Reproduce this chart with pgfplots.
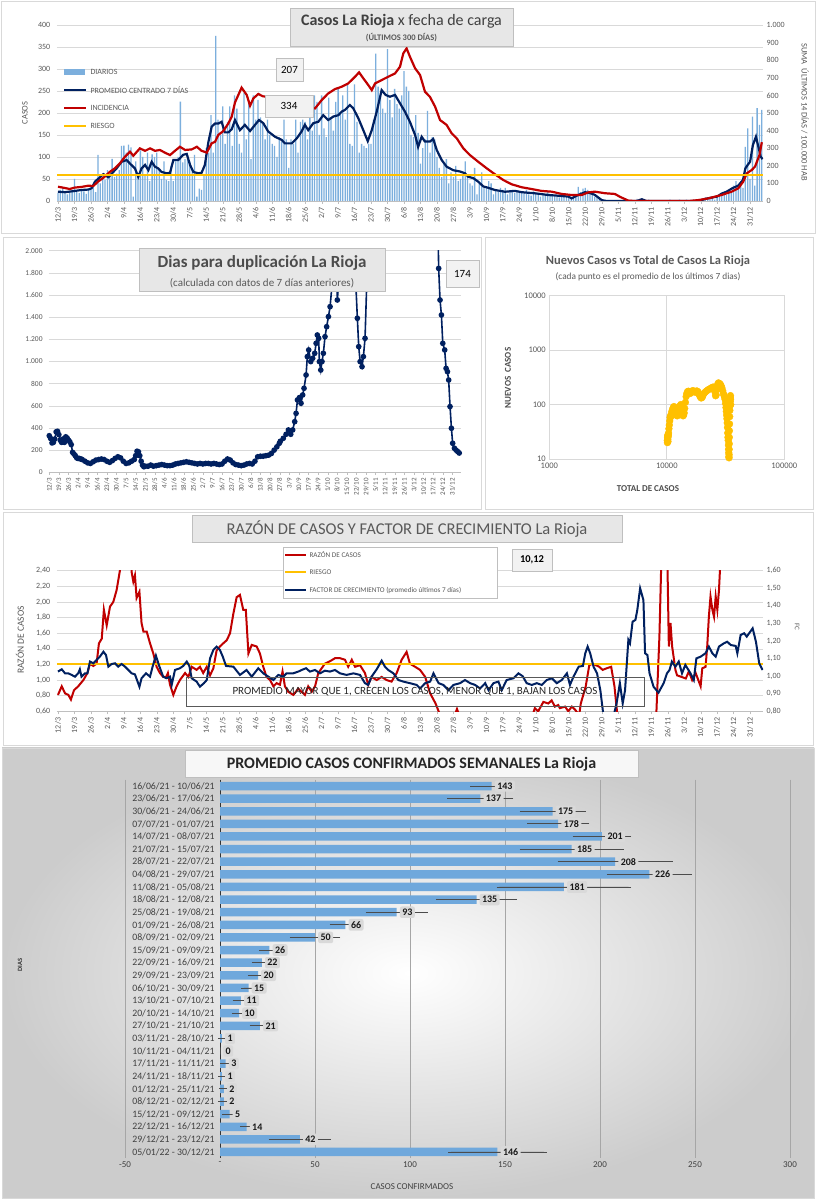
\documentclass[border=0pt]{standalone}
\usepackage{pgfplots}
\pgfplotsset{compat=1.18}
\usepackage{pgfplotstable}
\usepackage{fontspec}
\setmainfont{Carlito}

\definecolor{navy}{HTML}{002060}
\definecolor{rojo}{HTML}{C00000}
\definecolor{amar}{HTML}{FFC000}
\definecolor{barra}{HTML}{5B9BD5}
\definecolor{barra2}{HTML}{6FA8DC}
\definecolor{grisg}{HTML}{D9D9D9}
\definecolor{txt}{HTML}{595959}
\definecolor{caja}{HTML}{E7E7E7}
\definecolor{borde}{HTML}{BFBFBF}

\newcommand\fs[1]{\fontsize{#1}{#1}\selectfont}

% daily cases, 12/3/21 .. 5/1/22
\pgfplotstableread[row sep=\\]{v\\
18\\25\\30\\20\\15\\22\\24\\ 50\\20\\18\\24\\22\\16\\28\\ 30\\35\\20\\105\\40\\55\\48\\
70\\60\\96\\55\\62\\70\\125\\ 126\\110\\128\\122\\10\\90\\60\\ 115\\100\\60\\110\\45\\106\\100\\
110\\70\\50\\90\\48\\45\\80\\ 45\\90\\100\\226\\88\\95\\105\\ 90\\75\\105\\10\\28\\25\\60\\
120\\110\\195\\110\\375\\185\\150\\ 215\\130\\180\\215\\125\\240\\210\\ 130\\110\\245\\140\\225\\95\\240\\
185\\230\\190\\175\\140\\185\\150\\ 130\\125\\100\\145\\135\\185\\140\\ 75\\140\\130\\185\\110\\180\\185\\
180\\140\\190\\160\\240\\225\\150\\ 240\\165\\145\\235\\190\\160\\225\\ 255\\200\\240\\185\\265\\130\\125\\
265\\180\\110\\130\\125\\120\\130\\ 130\\185\\335\\260\\240\\210\\200\\ 345\\230\\190\\255\\220\\210\\240\\
295\\260\\250\\150\\145\\195\\155\\ 85\\120\\140\\205\\110\\145\\140\\ 100\\75\\55\\85\\95\\40\\65\\
55\\80\\45\\50\\60\\90\\55\\ 40\\35\\75\\15\\40\\65\\30\\ 30\\45\\40\\15\\25\\20\\30\\
25\\30\\15\\20\\25\\18\\24\\ 20\\22\\18\\25\\15\\12\\22\\ 18\\15\\10\\16\\14\\20\\12\\
12\\10\\14\\8\\10\\12\\9\\ 10\\8\\15\\12\\32\\20\\28\\ 30\\25\\22\\15\\10\\8\\4\\
2\\1\\0\\1\\0\\2\\1\\ 0\\0\\1\\0\\0\\0\\1\\ 2\\5\\3\\4\\2\\1\\3\\
1\\0\\2\\1\\0\\1\\2\\ 2\\3\\1\\2\\2\\3\\1\\ 2\\3\\2\\1\\3\\2\\1\\
3\\5\\8\\4\\6\\7\\3\\ 10\\12\\15\\20\\14\\18\\20\\ 35\\45\\30\\40\\30\\123\\165\\
50\\192\\35\\211\\173\\207\\
}\diarios

\pgfplotsset{
  fechas/.style={xtick={0,7,...,294},
    xticklabels={12/3,19/3,26/3,2/4,9/4,16/4,23/4,30/4,7/5,14/5,21/5,28/5,4/6,11/6,18/6,25/6,2/7,9/7,16/7,23/7,30/7,6/8,13/8,20/8,27/8,3/9,10/9,17/9,24/9,1/10,8/10,15/10,22/10,29/10,5/11,12/11,19/11,26/11,3/12,10/12,17/12,24/12,31/12}},
  base/.style={anchor=south west, scale only axis, clip mode=individual,
    tick label style={text=txt}, /pgf/number format/assume math mode=true},
}

\begin{document}
\begin{tikzpicture}
\useasboundingbox (0,0) rectangle (816pt,1200pt);

% panel backgrounds
\begin{scope}[x=1pt,y=-1pt,yshift=1200pt]
  \fill[white] (0,0) rectangle (816,1200);
  \draw[grisg, fill=white] (1,1) rectangle (815,233);
  \draw[grisg, fill=white] (3,237) rectangle (481,509);
  \draw[grisg, fill=white] (485,237) rectangle (813,509);
  \draw[grisg, fill=white] (3,512) rectangle (813,745);
  \shade[inner color=white, outer color=black!20] (2,748) rectangle (814,1198);
  \draw[grisg] (2,748) rectangle (814,1198);
\end{scope}

% ---------- panel 1: casos diarios ----------
\begin{axis}[base, at={(56.8pt,999pt)}, width=706.2pt, height=176pt,
  fechas, xmin=-0.5, xmax=299.5, ymin=0, ymax=400, ytick={0,50,...,400},
  axis x line*=bottom, axis y line*=left,
  y axis line style={draw=none}, x axis line style={draw=borde},
  ymajorgrids, grid style={grisg, line width=0.6pt},
  ytick style={draw=none}, xtick style={draw=borde}, tick align=outside, major tick length=3pt,
  tick label style={font=\fs{8}}, xticklabel style={rotate=90, anchor=east}]
\addplot[ybar, bar width=1.3pt, fill=barra!80, draw=none] table[x expr=\coordindex, y=v]{\diarios};
\addplot[navy, line width=2.2pt] coordinates {
(0,21)(3,20)(6,22)(10,25)(13,26)(14.3,29)(15.7,44)(17,50)(19.3,61)(21.4,54)(23.5,66)(24.9,74)(27,89)(29.2,93)(30.6,85)(32.7,74)(34.1,55)(35.5,74)(37,82)(38.4,70)(39.8,89)(41.2,78)(42.6,74)(44,66)(46.2,63)(47.6,64)(49,93)(51.1,93)(53.2,105)(54.7,107)(56.1,82)(57.5,66)(59.6,63)(61,64)(62.4,82)(63.9,134)(65.3,169)(66.7,176)(68.1,176)(69.5,180)(70.9,156)(72.4,156)(73.8,163)(75.2,184)(77.3,161)(79.4,173)(81.6,159)(83.7,173)(85.4,184)(87.2,177)(89.3,158)(92.2,146)(95,139)(96.4,131)(99.3,131)(101.4,142)(103.5,158)(104.9,173)(106.3,161)(108.5,177)(110.6,180)(112.7,195)(114.8,184)(117,192)(119.1,195)(120.5,203)(121.9,207)(124,218)(125.4,211)(127.6,188)(129.7,161)(131.6,136)(133.3,161)(135.4,203)(137.5,252)(139.2,241)(141,237)(143.2,241)(145.3,222)(147.4,203)(149.5,180)(151.7,150)(153,123)(154.5,146)(155.9,135)(158,135)(159.4,141)(160.9,116)(163,93)(165.1,78)(167.9,70)(170.8,67)(172.9,63)(174.3,55)(176.4,52)(178.5,44)(180.7,33)(182.8,30)(185.6,25)(189.9,21)(194.1,23)(197,20)(202.6,17.5)(208.3,13.6)(212.5,12)(216.8,10)(218.2,6)(221,13.6)(223.9,20)(226,18)(228,14)(231,2)(233,0)(246,0)(248,4)(250,0)(272,0)(276,6)(280,10)(282,17)(284,21)(286.5,29)(289,35)(291,48)(292,74)(293,82)(294,89)(295.2,127)(296.5,146)(297.7,120)(298.5,101)(299.3,95)};
\end{axis}
\begin{axis}[base, at={(56.8pt,999pt)}, width=706.2pt, height=176pt,
  xmin=-0.5, xmax=299.5, ymin=0, ymax=1000, ytick={0,100,...,1000},
  axis x line=none, axis y line*=right, y axis line style={draw=none}, ytick style={draw=none},
  tick label style={font=\fs{8}}, /pgf/number format/1000 sep={.}]
\addplot[rojo, line width=2.2pt] coordinates {
(0,81)(2.5,75)(5,68)(7,76)(10,80)(13,87)(15,85)(17,110)(19.3,132)(22.1,166)(24.2,186)(26.3,214)(28.5,252)(30.6,280)(32,257)(34.8,299)(37,285)(39.1,299)(41.2,285)(43.3,290)(45.5,274)(47.6,261)(49.7,285)(51.8,308)(54,290)(56.8,293)(59,308)(61,285)(63.2,275)(65.3,328)(66.7,336)(68.1,375)(70.2,397)(72.4,441)(73.8,479)(75.2,560)(78,644)(80.2,602)(81.6,541)(83,583)(85.1,608)(87,595)(90,590)(95,565)(100,545)(105,530)(109.2,526)(112,573)(114.8,611)(117.7,636)(120.5,649)(123.3,668)(126.2,706)(127.9,731)(129.7,697)(131.8,659)(133.3,630)(134.7,668)(137.5,687)(140.3,706)(143.2,725)(145.3,763)(146.7,839)(148.1,867)(149.5,820)(151.7,754)(153.8,716)(155.9,621)(158,592)(160.2,536)(162.3,460)(165.1,432)(167.2,385)(169.4,356)(172.2,299)(175,261)(178.5,223)(182.1,186)(185.6,152)(189.2,119)(192.7,95)(197,78)(201.2,68)(205.5,57)(209.7,53)(214,40)(218.2,34)(222.5,34)(225.3,49)(228.1,53)(232.4,44)(236.6,40)(238.7,24)(242.3,2)(245,0)(268,0)(272,5)(276.3,15)(281.9,34)(286.2,53)(289,72)(291.1,110)(292.6,157)(294.7,176)(296.1,195)(298,261)(299,334)};
\addplot[amar, line width=2pt] coordinates {(-0.5,150)(299.5,150)};
\end{axis}

% ---------- panel 2: dias para duplicacion ----------
\begin{axis}[base, at={(48.6pt,727.7pt)}, width=412pt, height=221.6pt,
  fechas, xmin=-0.5, xmax=300, ymin=0, ymax=2000, ytick={0,200,...,2000},
  axis x line*=bottom, axis y line*=left,
  y axis line style={draw=none}, x axis line style={draw=borde},
  ymajorgrids, grid style={grisg, line width=0.6pt},
  ytick style={draw=none}, xtick style={draw=borde}, tick align=outside, major tick length=2.5pt,
  yticklabel style={font=\fs{7.5}}, xticklabel style={font=\fs{7}, rotate=90, anchor=east},
  /pgf/number format/1000 sep={.}]
\addplot[navy, line width=1.6pt, mark=*, mark size=2pt, mark options={solid, fill=navy}] coordinates {
(0,330)(1,305)(2,265)(3,270)(4,300)(5,365)(6,370)(7,340)(8,290)(9,270)(10,300)(11,270)(12,320)(13,310)(14,290)(15,275)(16,250)(17,180)(18,165)(19,150)(20,130)(21,125)(22,125)(23,120)(24,115)(26,100)(28,85)(30,80)(32,95)(34,110)(36,115)(38,120)(40,115)(42,100)(44,90)(46,105)(48,125)(50,140)(52,130)(54,100)(56,80)(58,85)(60,100)(62,115)(63,150)(64,190)(65,185)(66,150)(67,100)(68,65)(69,50)(70,55)(72,55)(74,65)(76,55)(78,60)(80,65)(82,70)(84,65)(86,60)(88,60)(90,65)(92,75)(94,80)(96,85)(98,90)(100,95)(102,90)(104,85)(106,80)(108,75)(110,80)(112,75)(114,80)(116,80)(118,75)(120,80)(122,75)(124,70)(126,75)(128,100)(130,120)(132,110)(134,85)(136,70)(138,65)(140,60)(142,65)(144,75)(146,80)(148,75)(150,100)(152,140)(154,145)(156,145)(158,150)(160,155)(162,170)(164,200)(166,230)(167.8,262)(168.5,280)(170.7,307)(172.7,343)(174.4,382)(176.1,343)(177.5,382)(179,457)(180,532)(181,653)(182.4,674)(183.6,623)(184.8,698)(185.8,758)(187.3,878)(188.2,1044)(189.2,1104)(190.7,999)(192.1,1029)(193.6,1074)(194.6,1164)(195.5,1239)(196.5,1209)(197,999)(198,923)(198.9,999)(199.9,1074)(201.1,1224)(202.3,1314)(203.6,1405)(204.8,1495)(206,1660)(207.2,1901)(208.2,2600)(209.2,2400)(210.1,1555)(211,1700)(212,2600)(216,3500)(220,3500)(223,2300)(223.5,1720)(224.7,1390)(225.7,1134)(226.7,999)(228.1,953)(229.1,1044)(230.3,1209)(231.5,1690)(232.5,2600)(240,4000)(270,4000)(283,2600)(284,1840)(285,1555)(286,1420)(287,1164)(288.4,1104)(289.4,938)(290.4,908)(291.3,833)(292.3,593)(293.3,397)(294.2,262)(295.5,217)(296.7,200)(298,186)(299,174)};
\end{axis}

% ---------- panel 3: nuevos vs total ----------
\begin{axis}[base, at={(549.3pt,741pt)}, width=235pt, height=163.3pt,
  xmode=log, ymode=log, xmin=1000, xmax=100000, ymin=10, ymax=10000,
  log ticks with fixed point, /pgf/number format/1000 sep={},
  grid=major, grid style={grisg, line width=0.7pt}, axis line style={grisg, line width=0.7pt},
  tick style={draw=none}, tick label style={font=\fs{8.5}}]
\addplot[only marks, mark=*, mark size=3.4pt, color=amar] coordinates {
(10100,22)(10120,20)(10150,25)(10180,27)(10200,23)(10230,21)(10260,28)(10300,26)(10350,30)(10420,36)(10500,42)(10580,50)(10660,58)(10750,62)(10850,60)(10950,68)(11050,75)(11200,82)(11350,88)(11500,92)(11650,85)(11800,78)(11950,70)(12100,64)(12250,62)(12400,66)(12550,78)(12700,88)(12850,92)(13000,95)(13150,100)(13300,88)(13450,75)(13600,66)(13750,62)(13900,64)(14050,70)(14200,85)(14400,110)(14600,140)(14800,160)(15000,172)(15250,176)(15500,170)(15800,160)(16100,165)(16400,178)(16800,180)(17200,172)(17600,168)(18000,178)(18400,172)(18800,155)(19200,140)(19600,132)(20000,135)(20400,150)(20800,162)(21300,170)(21800,178)(22400,186)(23000,192)(23600,198)(24200,205)(24800,210)(25300,195)(25700,170)(26000,145)(26300,150)(26700,190)(27100,235)(27500,250)(27900,245)(28400,238)(28900,225)(29400,205)(29900,180)(30300,160)(30700,146)(31000,138)(31300,125)(31600,105)(31900,88)(32100,75)(32300,64)(32500,55)(32700,46)(32850,38)(33000,30)(33150,25)(33300,22)(33450,18)(33550,15)(33650,13)(33750,11)(33850,10.5)(33900,12)(33950,15)(34000,19)(34050,25)(34100,33)(34200,44)(34300,60)(34400,78)(34500,95)(34600,115)(34700,135)(34800,146)(34900,125)(35000,100)};
\end{axis}

% ---------- panel 4: razon de casos / factor de crecimiento ----------
\begin{axis}[base, at={(56.8pt,488.7pt)}, width=706.2pt, height=140.6pt,
  fechas, xmin=-0.5, xmax=299.5, ymin=0.6, ymax=2.4,
  ytick={0.6,0.8,1,1.2,1.4,1.6,1.8,2,2.2,2.4},
  axis x line*=bottom, axis y line*=left,
  y axis line style={draw=none}, x axis line style={draw=borde},
  ymajorgrids, grid style={grisg, line width=0.6pt},
  ytick style={draw=none}, xtick style={draw=borde}, tick align=outside, major tick length=3pt,
  tick label style={font=\fs{8}}, xticklabel style={rotate=90, anchor=east},
  yticklabel style={/pgf/number format/.cd, fixed, fixed zerofill, precision=2, use comma}]
\addplot[rojo, line width=2pt] coordinates {
(0,0.81)(1.6,0.92)(3,0.83)(4.4,0.81)(5.5,0.75)(6.8,0.87)(8.6,0.92)(10.8,1.0)(12.5,1.09)(13.6,1.21)(15,1.18)(16.4,1.21)(17.4,1.47)(18.6,1.53)(19.5,1.90)(20.7,1.70)(22.1,1.94)(23.5,2.0)(24.9,2.15)(26.3,2.40)(27.2,2.9)(30.4,2.9)(31.3,2.38)(32,2.26)(32.7,2.34)(33.4,2.05)(34.6,2.13)(35.5,1.73)(36.3,1.62)(37.7,1.62)(39.1,1.47)(40.5,1.34)(41.9,1.17)(43.3,1.09)(44.7,1.04)(46,1.04)(46.7,1.09)(47.6,0.94)(49,0.81)(50.4,0.92)(51.8,1.0)(54,1.09)(55.4,1.04)(56.8,1.17)(58.9,1.13)(60.3,1.17)(61.7,1.09)(63.2,1.17)(64.6,1.06)(66,1.15)(67.4,1.38)(68.8,1.43)(70.2,1.47)(71.7,1.51)(73.1,1.60)(74.5,1.85)(75.9,2.06)(77.3,2.09)(78.7,1.90)(79.8,1.90)(80.9,1.34)(82.3,1.45)(84.4,1.43)(85.8,1.34)(87.2,1.17)(88.6,1.04)(90.1,1.0)(91.5,0.92)(92.9,0.96)(94.3,0.94)(95.4,1.11)(96.4,0.92)(97.8,0.85)(100,0.81)(102.1,0.89)(103.5,0.85)(104.9,0.81)(106.3,0.92)(107.8,0.85)(109.2,0.92)(110.6,1.09)(112,1.15)(113.4,1.21)(115.5,1.24)(117.7,1.28)(119.8,1.28)(121.9,1.26)(123.3,1.17)(124.8,1.26)(126.2,1.17)(128.3,1.19)(130.4,1.09)(131.8,0.94)(133.2,1.04)(135.4,1.0)(137.5,1.04)(139.6,1.0)(141.7,0.98)(143.9,1.09)(146,1.26)(148.1,1.36)(149.5,1.21)(151.7,1.17)(153.8,1.13)(156,1.04)(158.1,0.83)(160.4,0.70)(161.7,0.60)(163,0.5)(168,0.5)(169.5,0.63)(171,0.5)(201,0.5)(202.6,0.64)(204,0.6)(206.2,0.72)(208.3,0.70)(209.7,0.74)(211.1,0.66)(212.5,0.68)(213.2,0.64)(215.4,0.66)(216.8,0.6)(218.3,0.66)(219.7,0.62)(221.4,0.55)(222.1,0.70)(224.2,0.92)(225.7,1.19)(227.1,1.21)(228.5,1.19)(229.9,1.17)(231.4,1.13)(233,1.15)(235,1.17)(236.4,0.92)(237.8,0.5)(254.1,0.5)(254.8,1.04)(255.5,1.56)(256.2,2.40)(256.8,3.0)(258.5,3.0)(259,2.32)(259.5,1.43)(260.2,1.73)(260.9,1.43)(262.3,1.13)(263,1.06)(264.9,1.04)(266.7,1.02)(268,1.11)(269.4,1.0)(270.9,1.09)(273,0.92)(273.7,1.15)(275.1,1.17)(275.8,1.43)(276.5,1.81)(277.2,2.07)(278,1.9)(278.7,1.81)(279.4,2.07)(280.1,1.9)(280.8,2.15)(281.2,2.40)(282,3.0)(299,10.12)};
\addplot[amar, line width=2pt] coordinates {(-0.5,1.2)(299.5,1.2)};
\end{axis}
\begin{axis}[base, at={(56.8pt,488.7pt)}, width=706.2pt, height=140.6pt,
  xmin=-0.5, xmax=299.5, ymin=0.8, ymax=1.6,
  ytick={0.8,0.9,1,1.1,1.2,1.3,1.4,1.5,1.6},
  axis x line=none, axis y line*=right, y axis line style={draw=none}, ytick style={draw=none},
  tick label style={font=\fs{8}},
  yticklabel style={/pgf/number format/.cd, fixed, fixed zerofill, precision=2, use comma}]
\addplot[navy, line width=2pt] coordinates {
(0,1.026)(1.6,1.039)(3,1.016)(4.4,1.016)(5.8,1.007)(7.2,0.997)(8.6,1.016)(9.3,1.039)(10,0.997)(11.5,1.016)(12.5,1.016)(13.6,1.083)(15,1.073)(16.4,1.092)(17.8,1.111)(19.3,1.139)(20.4,1.12)(21.4,1.054)(22.8,1.069)(24.2,1.073)(25.6,1.054)(27,1.069)(28.5,1.054)(29.9,1.035)(31.3,1.016)(32.7,1.01)(34.6,0.94)(35.5,0.988)(37.4,1.016)(39.1,0.997)(40.2,1.054)(41.6,1.117)(43,1.058)(44.7,0.997)(46.1,0.988)(47.6,0.997)(48.3,0.95)(49.7,1.035)(51.8,1.045)(53.2,1.058)(54.7,1.083)(55.8,1.058)(56.8,0.988)(58.9,0.969)(60.3,0.94)(62,0.96)(63.2,0.978)(64.6,1.101)(66,1.149)(67.4,1.168)(68.8,1.149)(70,1.111)(71.4,1.058)(74.5,1.054)(77.3,1.007)(80.1,1.035)(82.3,0.997)(85.1,1.045)(87.2,1.016)(89.4,0.997)(91.5,0.978)(93.6,1.007)(95.7,0.997)(97.1,1.016)(99.9,1.016)(102.1,1.026)(103.5,1.035)(105.4,1.045)(107,1.026)(109.2,1.035)(111.3,1.016)(113.4,1.031)(115.5,1.026)(117.7,1.035)(119.8,1.016)(122.6,1.007)(125.5,1.016)(128.3,1.007)(130.4,0.96)(131.8,0.95)(133.2,0.997)(135.4,1.039)(137.5,1.088)(138.9,1.054)(140.3,1.035)(142.5,1.016)(144.6,0.978)(146.7,0.969)(149.5,0.96)(152.4,0.95)(153.8,0.93)(156,0.96)(158.1,0.969)(159.5,1.016)(161.7,0.96)(163.7,0.95)(165.9,0.92)(168,0.95)(170.8,0.96)(172.9,0.978)(175.1,0.96)(177.2,0.95)(179.3,0.93)(181.5,0.96)(182.9,0.92)(185,0.96)(187.1,0.969)(188.5,0.92)(190.6,0.978)(193.5,0.988)(195.6,1.016)(197.4,1.0)(199.1,0.96)(201.3,0.95)(203.4,0.96)(205.5,0.95)(207.6,0.978)(209.8,0.988)(211.9,0.96)(214,0.978)(216.2,1.016)(217.5,0.95)(219,0.997)(221.2,1.054)(223,1.058)(224,1.13)(225,1.168)(226.1,1.13)(227.5,1.054)(229,1.016)(230.4,0.92)(231.5,0.80)(232.5,0.7)(235.5,0.7)(236.5,0.80)(237.3,0.845)(238.7,0.96)(239.9,0.845)(240.9,0.92)(242.3,1.206)(243,1.187)(244.1,1.31)(245.3,1.32)(246.1,1.376)(247.3,1.50)(248.7,1.433)(249.4,1.13)(250.4,1.12)(251.3,1.016)(253,0.94)(255.1,0.906)(257.3,0.96)(258.7,1.016)(259.8,1.035)(260.8,1.083)(262.3,1.054)(263.7,1.083)(265.1,1.016)(266.5,1.064)(268.7,1.016)(270.1,0.978)(271.2,1.101)(273,1.111)(275.1,1.13)(276.5,1.168)(278,1.13)(279.4,1.111)(280.8,1.168)(282.9,1.187)(284.3,1.196)(285.8,1.177)(287.9,1.172)(288.6,1.13)(290,1.234)(291.5,1.244)(292.6,1.225)(293.6,1.244)(295.1,1.272)(296.5,1.196)(297.9,1.073)(299.3,1.035)};
\end{axis}

% ---------- panel 5: promedio semanal ----------
\begin{axis}[base, at={(125pt,41.7pt)}, width=665pt, height=378.6pt,
  xmin=-50, xmax=300, xtick={-50,0,...,300}, xticklabels={-50,-,50,100,150,200,250,300},
  ymin=-0.5, ymax=29.5, y dir=reverse, ytick={0,...,29},
  yticklabels={16/06/21 - 10/06/21,23/06/21 - 17/06/21,30/06/21 - 24/06/21,07/07/21 - 01/07/21,14/07/21 - 08/07/21,21/07/21 - 15/07/21,28/07/21 - 22/07/21,04/08/21 - 29/07/21,11/08/21 - 05/08/21,18/08/21 - 12/08/21,25/08/21 - 19/08/21,01/09/21 - 26/08/21,08/09/21 - 02/09/21,15/09/21 - 09/09/21,22/09/21 - 16/09/21,29/09/21 - 23/09/21,06/10/21 - 30/09/21,13/10/21 - 07/10/21,20/10/21 - 14/10/21,27/10/21 - 21/10/21,03/11/21 - 28/10/21,10/11/21 - 04/11/21,17/11/21 - 11/11/21,24/11/21 - 18/11/21,01/12/21 - 25/11/21,08/12/21 - 02/12/21,15/12/21 - 09/12/21,22/12/21 - 16/12/21,29/12/21 - 23/12/21,05/01/22 - 30/12/21},
  axis x line*=bottom, axis y line*=middle, hide obscured x ticks=false,
  x axis line style={draw=none}, y axis line style={draw=black!80, line width=0.9pt},
  tick style={draw=none}, xmajorgrids, grid style={black!35, line width=0.6pt},
  xticklabel style={font=\fs{9}, text=black!75},
  yticklabel style={font=\fs{9.8}, text=black!75, xshift=-2pt}]
\addplot[xbar, bar width=8.5pt, fill=barra2, draw=none,
  nodes near coords, point meta=x,
  every node near coord/.append style={anchor=west, xshift=3pt, fill=black!15, rounded corners=2pt,
    inner sep=2.4pt, font=\bfseries\fs{10}, text=black!90},
  error bars/.cd, x dir=both, x explicit,
  error bar style={line width=0.8pt, black!70},
  error mark options={line width=0.8pt, mark size=2.6pt, black!70}]
coordinates {
(143,0) +- (10,0) (137,1) +- (16,0) (175,2) +- (16,0) (178,3) +- (15,0) (201,4) +- (14,0)
(185,5) +- (26,0) (208,6) +- (29,0) (226,7) +- (21,0) (181,8) +- (34,0) (135,9) +- (20,0)
(93,10) +- (15,0) (66,11) +- (7,0) (50,12) +- (12,0) (26,13) +- (4,0) (22,14) +- (4,0)
(20,15) +- (4,0) (15,16) +- (2.5,0) (11,17) +- (3,0) (10,18) +- (2.5,0) (21,19) +- (4,0)
(1,20) +- (0.5,0) (0,21) +- (0,0) (3,22) +- (1.5,0) (1,23) +- (0.5,0) (2,24) +- (1,0)
(2,25) +- (1.5,0) (5,26) +- (2.5,0) (14,27) +- (2,0) (42,28) +- (15,0) (146,29) +- (24.5,0)};
\end{axis}

% ---------- titles, legends, labels ----------
\begin{scope}[x=1pt,y=-1pt,yshift=1200pt]
  % panel 1
  \draw[borde, fill=caja] (290,8) rectangle (513,46);
  \node[text=black!75] at (401.5,21) {\fs{16}\textbf{Casos\ La\ Rioja}\ x\ fecha\ de\ carga};
  \node[text=txt] at (401.5,38) {\fs{8.5}\bfseries (ÚLTIMOS 300 DÍAS)};
  \draw[borde, fill=black!5] (276,58) rectangle (303,81);
  \node at (289.5,69.5) {\fs{11}207};
  \draw[borde, fill=black!5] (265,95) rectangle (313,117);
  \node at (289,106) {\fs{11}334};
  \fill[barra!80] (64,69) rectangle (85,75);
  \draw[navy, line width=2.2pt] (64,90) -- (86,90);
  \draw[rojo, line width=2.2pt] (64,108) -- (86,108);
  \draw[amar, line width=2.2pt] (64,126) -- (86,126);
  \begin{scope}[every node/.style={anchor=west, text=txt, font=\fs{8}}]
    \node at (87,72) {DIARIOS};
    \node at (87,90) {PROMEDIO CENTRADO 7 DÍAS};
    \node at (87,108) {INCIDENCIA};
    \node at (87,126) {RIESGO};
  \end{scope}
  \node[rotate=90, text=txt] at (25,113) {\fs{8.5}CASOS};
  \node[rotate=-90, text=txt] at (805,112) {\fs{8.5}SUMA\ \ ÚLTIMOS 14 DÍAS / 100.000 HAB};

  % panel 2
  \draw[borde, fill=caja] (139,248) rectangle (385,291);
  \node[text=black!70] at (262,263) {\fs{17}\bfseries Dias para duplicación La Rioja};
  \node[text=black!65] at (262,283) {\fs{11}(calculada con datos de 7 días anteriores)};
  \draw[borde, fill=black!5] (446,260) rectangle (479,287);
  \node at (462.5,273.5) {\fs{11}174};

  % panel 3
  \node[text=txt] at (648,261) {\fs{12.5}\bfseries Nuevos Casos vs Total de Casos La Rioja};
  \node[text=txt] at (648,277) {\fs{9.3}(cada punto es el promedio de los últimos 7 dias)};
  \node[rotate=90, text=black!70] at (508,378) {\fs{9}\bfseries NUEVOS\ \ CASOS};
  \node[text=black!70] at (648,489) {\fs{9}\bfseries TOTAL DE CASOS};

  % panel 4
  \draw[borde, fill=caja] (192,515) rectangle (622,542);
  \node[text=txt] at (407,529) {\fs{16.5}RAZÓN DE CASOS Y FACTOR DE CRECIMIENTO La Rioja};
  \draw[borde, fill=white] (283,547) rectangle (497,598);
  \draw[rojo, line width=2pt] (285,555) -- (306,555);
  \draw[amar, line width=2pt] (285,572) -- (306,572);
  \draw[navy, line width=2pt] (285,590) -- (306,590);
  \begin{scope}[every node/.style={anchor=west, text=txt, font=\fs{7.2}}]
    \node at (306,555) {RAZÓN DE CASOS};
    \node at (306,572) {RIESGO};
    \node at (306,590) {FACTOR DE CRECIMIENTO (promedio últimos 7 días)};
  \end{scope}
  \draw[borde, fill=black!5] (512,549) rectangle (552,571);
  \node at (532,560) {\fs{10.5}\bfseries 10,12};
  \draw[black!65, line width=0.7pt] (186,677) rectangle (644,706);
  \node[text=black!85] at (415,691.5) {\fs{11}PROMEDIO MAYOR QUE 1, CRECEN LOS CASOS, MENOR QUE 1, BAJAN LOS CASOS};
  \node[rotate=90, text=txt] at (20,640) {\fs{9.5}RAZÓN\ DE CASOS};
  \node[rotate=-90, text=txt] at (797,627) {\fs{7}FC};

  % panel 5
  \draw[borde, fill=black!3] (185,750) rectangle (638,777);
  \node[text=black!85] at (411.5,764) {\fs{16}\bfseries PROMEDIO CASOS CONFIRMADOS SEMANALES La Rioja};
  \node[rotate=90, text=black!80] at (20,965) {\fs{6.5}\bfseries DIAS};
  \node[text=black!75] at (412,1187) {\fs{9}CASOS CONFIRMADOS};
\end{scope}
\end{tikzpicture}
\end{document}
